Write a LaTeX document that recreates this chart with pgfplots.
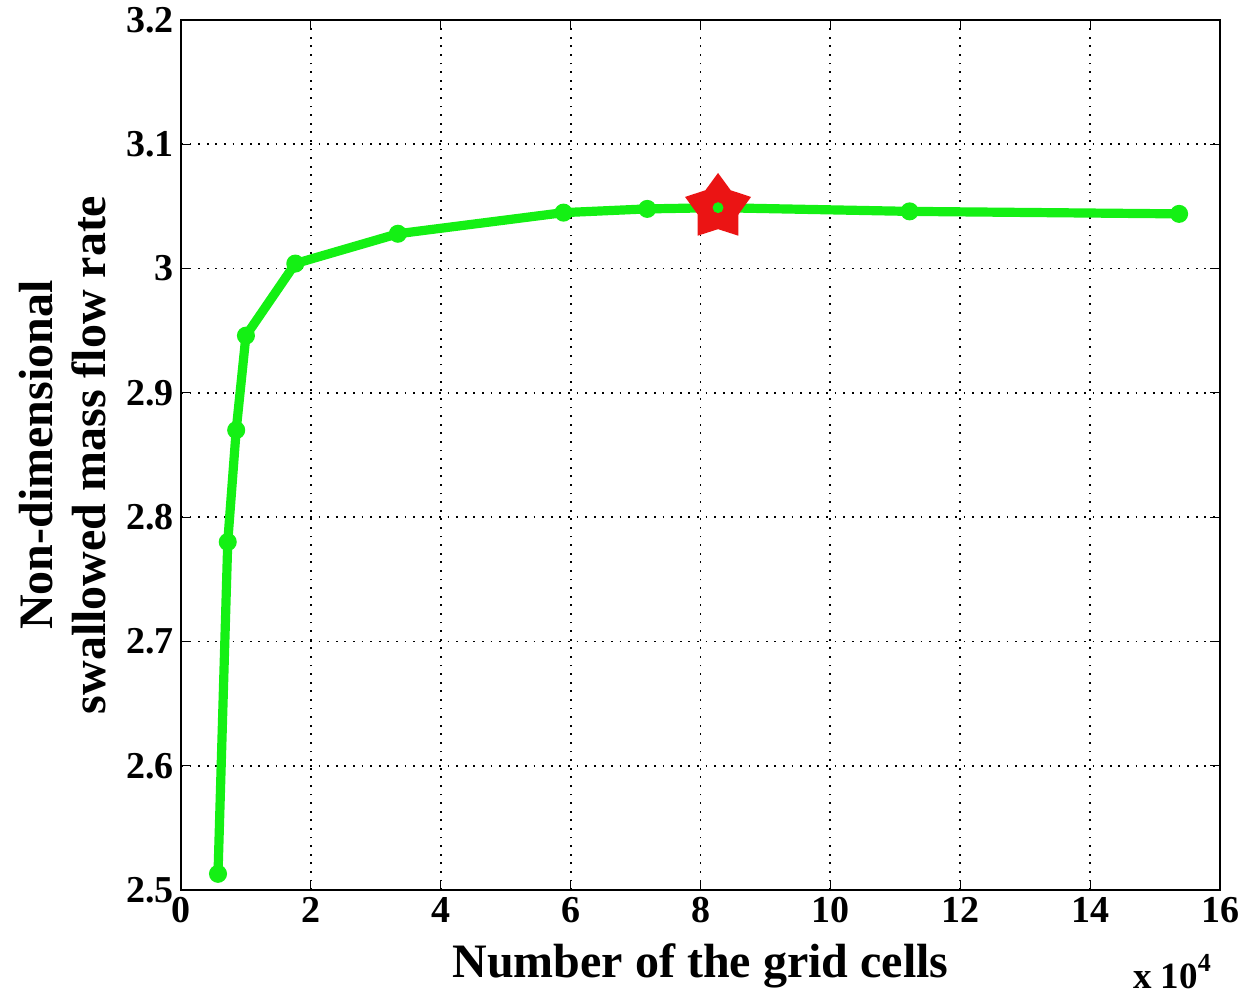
\documentclass[border=0pt]{standalone}
\usepackage{fontspec}
\setmainfont{Liberation Serif}
\usepackage{pgfplots}
\pgfplotsset{compat=1.18}

\definecolor{lgreen}{RGB}{20,240,20}
\definecolor{mred}{RGB}{235,20,20}

% five-pointed star with a blunt inner radius
\pgfdeclareplotmark{fatstar}{%
  \pgfpathmoveto{\pgfqpointpolar{90}{\pgfplotmarksize}}%
  \foreach \k in {1,...,4}{%
    \pgfpathlineto{\pgfqpointpolar{\numexpr90+72*\k-36\relax}{0.62\pgfplotmarksize}}%
    \pgfpathlineto{\pgfqpointpolar{\numexpr90+72*\k\relax}{\pgfplotmarksize}}%
  }%
  \pgfpathlineto{\pgfqpointpolar{54}{0.62\pgfplotmarksize}}%
  \pgfpathclose
  \pgfusepathqfillstroke
}

\begin{document}
\begin{tikzpicture}
\begin{axis}[
  name=main,
  scale only axis,
  width=519.5pt, height=435pt,
  xmin=0, xmax=16, ymin=2.5, ymax=3.2,
  xtick={0,2,...,16},
  ytick={2.5,2.6,...,3.2},
  yticklabel style={/pgf/number format/fixed, /pgf/number format/precision=1},
  /pgf/number format/assume math mode=true,
  tick label style={font=\fontsize{19}{22}\selectfont\bfseries},
  grid=major,
  major grid style={black, line width=0.9pt, dash pattern=on 0.9pt off 3.4pt},
  tick align=inside,
  major tick length=5pt,
  tick style={black, line width=0.6pt},
  axis line style={black, line width=0.8pt},
  xlabel={Number of the grid cells},
  ylabel={Non-dimensional\\swallowed mass flow rate},
  label style={font=\fontsize{24}{26.5}\selectfont\bfseries},
  xlabel style={at={(axis description cs:0.5,0)}, anchor=base, yshift=-44pt},
  ylabel style={align=center, at={(axis description cs:0,0.5)}, anchor=center, yshift=59pt},
  clip=false,
]
\addplot[lgreen, line width=4.6pt, mark=*, mark size=3.6pt,
  mark options={fill=lgreen, draw=lgreen, line width=1.8pt}]
  coordinates {
  (0.57, 2.513)
  (0.72, 2.780)
  (0.85, 2.870)
  (1.00, 2.946)
  (1.76, 3.004)
  (3.34, 3.028)
  (5.89, 3.045)
  (7.18, 3.048)
  (8.27, 3.049)
  (11.22, 3.046)
  (15.37, 3.044)
  };
\addplot[only marks, mark=fatstar, mark size=16.5pt,
  mark options={fill=mred, draw=mred, line width=1pt}]
  coordinates {(8.27, 3.049)};
\addplot[only marks, mark=*, mark size=2.5pt,
  mark options={fill=lgreen, draw=lgreen}]
  coordinates {(8.27, 3.049)};
\node[anchor=base east, font=\fontsize{18.5}{21}\selectfont\bfseries]
  at (rel axis cs:1,0) [xshift=-1pt, yshift=-49.5pt] {x 10\raisebox{8.5pt}{\fontsize{13}{15}\selectfont 4}};
\end{axis}
% page frame around the plot area
\useasboundingbox ([shift={(-90.5pt,-50.5pt)}]main.south west) rectangle ([shift={(15pt,10pt)}]main.north east);
\end{tikzpicture}
\end{document}
